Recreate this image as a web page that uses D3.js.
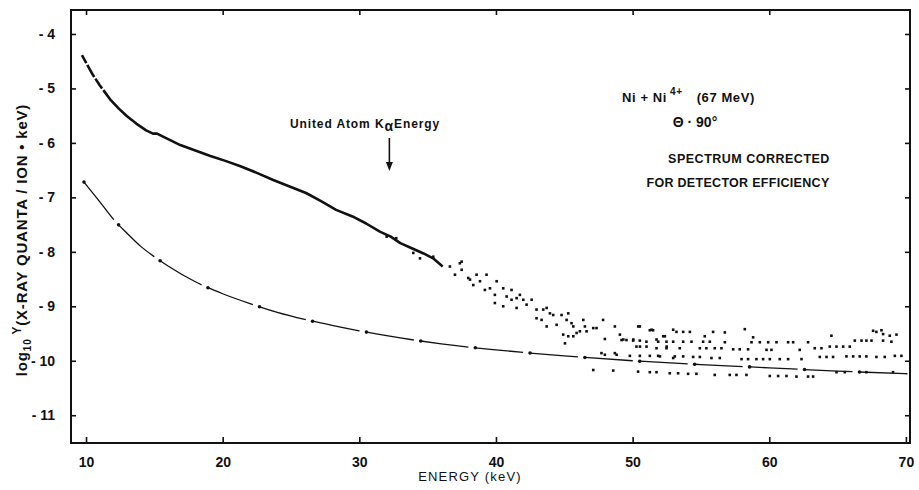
<!DOCTYPE html>
<html>
<head>
<meta charset="utf-8">
<script src="https://cdn.jsdelivr.net/npm/d3@7"></script>
<style>
  html, body { margin: 0; padding: 0; background: #fff; }
  svg { display: block; }
  text { font-family: "Liberation Sans", Arial, sans-serif; fill: #111; }
</style>
</head>
<body>
<svg id="chart" width="919" height="490"></svg>
<script>
// Measured spectrum: dense low-energy part (keV, log10 Y)
const denseEnergy = [9.7, 10.5, 11.0, 11.76, 12.4, 13.0, 13.7, 14.4, 14.9, 15.2, 15.6, 16.9, 18.0, 19.1, 20.2, 21.3, 22.5, 23.7, 24.9, 26.1, 27.2, 28.3, 29.5, 30.5, 31.5, 32.3, 33.0, 33.8, 34.7, 35.4, 36.1];
const denseLog = [-4.39, -4.75, -4.94, -5.20, -5.37, -5.51, -5.65, -5.77, -5.83, -5.83, -5.88, -6.04, -6.14, -6.24, -6.33, -6.43, -6.55, -6.68, -6.80, -6.92, -7.07, -7.23, -7.35, -7.48, -7.63, -7.72, -7.84, -7.93, -8.03, -8.12, -8.27];

// Measured spectrum: scattered high-energy channels
const scatterEnergy = [
  32.0, 32.7, 33.95, 34.44, 35.41, 37.49,
  36.63, 37.36, 37.49, 37.0, 37.97, 38.1, 38.58, 38.83, 38.34, 39.31, 39.19, 39.56, 40.05, 39.92,
  40.53, 40.78, 41.14, 41.14, 41.51, 41.75, 42.0, 42.24, 42.61, 39.92, 40.53, 41.51, 42.97, 43.46,
  43.71, 43.95, 44.19, 44.8, 42.97, 43.34, 43.71, 44.44, 45.17, 45.29, 45.53, 45.66, 44.92, 45.29,
  45.9, 46.39, 46.51, 46.14, 46.63, 47.12, 47.36, 45.05, 45.66, 47.12,
  47.84, 48.7, 50.53, 51.26, 51.5, 52.36, 53.21, 53.7, 54.19, 55.28, 55.89, 56.75, 58.21, 58.82,
  64.55, 67.6, 67.84, 68.21, 68.33, 68.82, 69.31, 50.41, 51.39, 52.97, 49.07, 49.32, 50.05, 51.75, 52.24,
  47.97, 49.19, 49.55, 50.04, 50.53, 51.01, 51.87, 52.48, 52.97, 53.7, 54.31, 55.16, 55.65, 56.75,
  58.7, 59.31, 59.92, 60.53, 61.38, 61.75, 62.84, 63.33, 63.82, 64.43, 64.92, 65.41, 65.89, 66.26,
  66.75, 67.11, 67.48, 68.33, 68.94, 51.75, 52.48, 53.45, 54.92, 55.4, 56.01, 56.5, 57.36, 57.84,
  58.45, 59.8, 60.16, 62.23, 50.28, 50.54, 51.02, 52.49,
  47.72, 48.7, 49.8, 50.53, 51.26, 51.87, 53.09, 53.7, 54.43, 54.92, 55.77, 56.38, 57.97, 58.45,
  59.06, 59.55, 60.04, 60.77, 61.38, 62.36, 63.7, 64.19, 64.67, 65.65, 66.14, 66.62, 67.11, 67.84,
  68.45, 69.19, 69.67, 47.97, 48.83, 52.0, 52.97,
  48.58, 50.4, 51.26, 51.75, 52.72, 53.33, 54.06, 54.67, 56.01, 57.11, 57.6, 58.33, 60.04, 60.65,
  61.26, 61.99, 62.84, 63.21, 64.92, 65.53, 67.11, 69.06
];
const scatterLog = [
  -7.72, -7.75, -8.02, -8.12, -8.09, -8.18,
  -8.27, -8.21, -8.33, -8.42, -8.48, -8.51, -8.42, -8.54, -8.61, -8.42, -8.70, -8.67, -8.54, -8.79,
  -8.67, -8.82, -8.70, -8.88, -8.85, -8.79, -8.88, -8.97, -8.88, -8.94, -9.00, -9.03, -9.06, -9.06,
  -9.03, -9.13, -9.16, -9.16, -9.22, -9.25, -9.37, -9.34, -9.25, -9.13, -9.31, -9.37, -9.52, -9.55,
  -9.49, -9.25, -9.37, -9.46, -9.46, -9.40, -9.40, -9.68, -9.55, -10.17,
  -9.25, -9.37, -9.37, -9.44, -9.44, -9.55, -9.47, -9.47, -9.47, -9.55, -9.47, -9.48, -9.42, -9.57,
  -9.54, -9.45, -9.47, -9.44, -9.51, -9.54, -9.52, -9.37, -9.43, -9.43, -9.52, -9.61, -9.61, -9.61, -9.55,
  -9.60, -9.62, -9.62, -9.63, -9.63, -9.65, -9.65, -9.65, -9.65, -9.65, -9.65, -9.65, -9.65, -9.66,
  -9.66, -9.66, -9.66, -9.66, -9.66, -9.66, -9.66, -9.77, -9.77, -9.74, -9.74, -9.74, -9.74, -9.63,
  -9.63, -9.63, -9.63, -9.63, -9.65, -9.77, -9.77, -9.77, -9.77, -9.77, -9.77, -9.77, -9.79, -9.79,
  -9.79, -9.80, -9.80, -9.80, -9.74, -9.74, -9.74, -9.74,
  -9.86, -9.86, -9.91, -9.91, -9.91, -9.91, -9.92, -9.92, -9.93, -9.93, -9.95, -9.95, -9.97, -9.97,
  -9.97, -9.97, -9.97, -9.97, -9.97, -9.97, -9.93, -9.93, -9.93, -9.92, -9.92, -9.92, -9.92, -9.93,
  -9.93, -9.91, -9.91, -9.89, -9.89, -9.92, -9.95,
  -10.18, -10.20, -10.21, -10.21, -10.23, -10.23, -10.24, -10.24, -10.26, -10.26, -10.26, -10.26, -10.28, -10.28,
  -10.28, -10.29, -10.29, -10.29, -10.21, -10.21, -10.21, -10.21
];

// Smooth reference curve (dash-dot)
const curveEnergy = [9.85, 11, 12, 13, 14, 15, 16, 18, 20, 22, 24, 26, 28, 30, 33, 36, 40, 45, 50, 55, 60, 65, 70.3];
const curveLog = [-6.72, -7.08, -7.40, -7.66, -7.90, -8.09, -8.26, -8.55, -8.77, -8.95, -9.11, -9.24, -9.35, -9.45, -9.58, -9.69, -9.80, -9.91, -10.00, -10.07, -10.13, -10.19, -10.24];

// Axis ticks
const xTicks = [10, 20, 30, 40, 50, 60, 70];
const yTicks = [-4, -5, -6, -7, -8, -9, -10, -11];

const svg = d3.select("#chart");
const plotLeft = 71, plotRight = 910, plotTop = 10, plotBottom = 443;

const x = d3.scaleLinear().domain([8.9, 70.3]).range([plotLeft, plotRight]);
const y = d3.scaleLinear().domain([-3.56, -11.51]).range([plotTop, plotBottom]);

const ink = "#111";

// Plot clip
svg.append("defs").append("clipPath").attr("id", "plot")
  .append("rect").attr("x", plotLeft).attr("y", plotTop)
  .attr("width", plotRight - plotLeft).attr("height", plotBottom - plotTop);

// Axes with inward ticks on all four sides
const fmtY = d => "- " + Math.abs(d);
svg.append("g").attr("transform", `translate(${plotLeft},0)`)
  .call(d3.axisLeft(y).tickValues(yTicks).tickSize(-5).tickPadding(16).tickFormat(fmtY))
  .call(g => g.select(".domain").remove());
svg.append("g").attr("transform", `translate(${plotRight},0)`)
  .call(d3.axisRight(y).tickValues(yTicks).tickSize(-5).tickFormat(""))
  .call(g => g.select(".domain").remove());
svg.append("g").attr("transform", `translate(0,${plotBottom})`)
  .call(d3.axisBottom(x).tickValues(xTicks).tickSize(-6).tickPadding(14).tickFormat(d3.format("d")))
  .call(g => g.select(".domain").remove());
svg.append("g").attr("transform", `translate(0,${plotTop})`)
  .call(d3.axisTop(x).tickValues(xTicks.slice(0, 6)).tickSize(-5).tickFormat(""))
  .call(g => g.select(".domain").remove());

svg.selectAll(".tick line").attr("stroke", ink).attr("stroke-width", 1.6);
svg.selectAll(".tick text")
  .attr("font-size", 14).attr("font-weight", "bold").attr("fill", ink)
  .style("font-family", "'Liberation Sans', Arial, sans-serif");

// Frame
svg.append("rect")
  .attr("x", plotLeft).attr("y", plotTop)
  .attr("width", plotRight - plotLeft).attr("height", plotBottom - plotTop)
  .attr("fill", "none").attr("stroke", ink).attr("stroke-width", 2);

const plot = svg.append("g").attr("clip-path", "url(#plot)");

// Reference curve: thin line broken by dots
const curvePts = curveEnergy.map((e, i) => [x(e), y(curveLog[i])]);
const curvePath = plot.append("path")
  .attr("d", d3.line().curve(d3.curveMonotoneX)(curvePts))
  .attr("fill", "none").attr("stroke", ink).attr("stroke-width", 1.3)
  .attr("stroke-dasharray", "48,3.5,0,3.5");
const node = curvePath.node();
const len = node.getTotalLength();
const dotsAlong = d3.range(0, len, 55);
plot.append("g").selectAll("circle").data(dotsAlong).join("circle")
  .attr("cx", l => node.getPointAtLength(l).x)
  .attr("cy", l => node.getPointAtLength(l).y)
  .attr("r", 1.8).attr("fill", ink);

// Dense spectrum band
plot.append("path")
  .attr("d", d3.line().curve(d3.curveLinear)(denseEnergy.map((e, i) => [x(e), y(denseLog[i])])))
  .attr("fill", "none").attr("stroke", ink).attr("stroke-width", 2.6)
  .attr("stroke-linejoin", "round")
  .attr("stroke-dasharray", "9,2,14,2,12,2,1000");

// Scattered channels
plot.append("g").selectAll("rect").data(scatterEnergy.map((e, i) => [e, scatterLog[i]])).join("rect")
  .attr("x", d => x(d[0]) - 1.3).attr("y", d => y(d[1]) - 1.3)
  .attr("width", 2.6).attr("height", 2.6).attr("fill", ink);

// Axis titles
svg.append("text")
  .attr("x", 470).attr("y", 481).attr("text-anchor", "middle")
  .attr("font-size", 13).attr("letter-spacing", 1.2)
  .text("ENERGY (keV)");

const yt = svg.append("text")
  .attr("transform", "translate(27,240) rotate(-90)")
  .attr("text-anchor", "middle").attr("font-size", 15).attr("font-weight", "bold")
  .attr("letter-spacing", 0.8);
yt.append("tspan").text("log");
yt.append("tspan").attr("font-size", 10).attr("dy", 4).text("10");
yt.append("tspan").attr("font-size", 12).attr("dy", -10).text(" Y");
yt.append("tspan").attr("dy", 6).text("(X-RAY QUANTA / ION • keV)");

// Annotation with arrow
const arrowE = 32.2;
const ann = svg.append("text").attr("x", 365).attr("y", 128)
  .attr("text-anchor", "middle").attr("font-size", 12).attr("font-weight", "bold")
  .attr("letter-spacing", 0.9);
ann.append("tspan").text("United Atom K");
ann.append("tspan").attr("font-size", 14).attr("dy", 3).text("α");
ann.append("tspan").attr("dy", -3).text("Energy");

svg.append("line")
  .attr("x1", x(arrowE)).attr("x2", x(arrowE)).attr("y1", 138).attr("y2", 164)
  .attr("stroke", ink).attr("stroke-width", 1.6);
svg.append("path")
  .attr("d", d3.line()([[x(arrowE) - 3.5, 162], [x(arrowE) + 3.5, 162], [x(arrowE), 171]]))
  .attr("fill", ink);

// Run description
const t1 = svg.append("text").attr("x", 622).attr("y", 102).attr("text-anchor", "start")
  .attr("font-size", 13).attr("font-weight", "bold").attr("letter-spacing", 0.6);
t1.append("tspan").text("Ni + Ni");
t1.append("tspan").attr("font-size", 10).attr("dy", -7).attr("dx", 3).text("4+");
t1.append("tspan").attr("dy", 7).attr("dx", 14).text("(67 MeV)");

svg.append("text").attr("x", 695).attr("y", 127).attr("text-anchor", "middle")
  .attr("font-size", 14).attr("font-weight", "bold").text("Θ · 90°");

svg.append("text").attr("x", 749).attr("y", 163).attr("text-anchor", "middle")
  .attr("font-size", 12.5).attr("font-weight", "bold").attr("letter-spacing", 0.5)
  .text("SPECTRUM CORRECTED");
svg.append("text").attr("x", 738).attr("y", 187).attr("text-anchor", "middle")
  .attr("font-size", 12.5).attr("font-weight", "bold").attr("letter-spacing", 0.3)
  .text("FOR DETECTOR EFFICIENCY");
</script>
</body>
</html>
